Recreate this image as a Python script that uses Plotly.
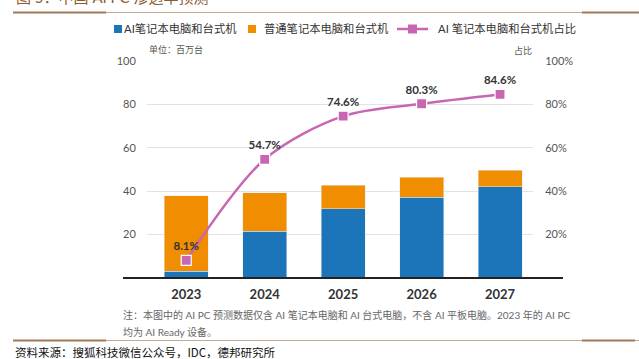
import plotly.graph_objects as go

years = ["2023", "2024", "2025", "2026", "2027"]
ai_pc = [3.1, 21.6, 31.8, 37.3, 42.1]
normal_pc = [34.7, 17.7, 10.9, 9.2, 7.5]
ai_share = [8.1, 54.7, 74.6, 80.3, 84.6]
share_labels = ["8.1%", "54.7%", "74.6%", "80.3%", "84.6%"]
left_ticks = [20, 40, 60, 80, 100]
right_ticks = [20, 40, 60, 80, 100]
right_tick_labels = ["20%", "40%", "60%", "80%", "100%"]
series_names = ["AI笔记本电脑和台式机", "普通笔记本电脑和台式机", "AI 笔记本电脑和台式机占比"]

W, H = 639, 359
ML, MR, MT, MB = 147, 106, 61, 81
PW, PH = W - ML - MR, H - MT - MB

def px(x):
    return (x - ML) / PW

def py(y):
    return (H - MB - y) / PH

FONT = "Lato, 'Noto Sans CJK SC', sans-serif"
BLUE = "#1c74b9"
ORANGE = "#f08d00"
PINK = "#c966b2"
BROWN = "#a07a58"

fig = go.Figure()
fig.add_trace(go.Bar(x=years, y=ai_pc, name=series_names[0],
                     marker=dict(color=BLUE), width=0.56, showlegend=False))
fig.add_trace(go.Bar(x=years, y=normal_pc, name=series_names[1],
                     marker=dict(color=ORANGE), width=0.56, showlegend=False))
fig.add_trace(go.Scatter(x=years, y=ai_share, name=series_names[2],
                         yaxis="y2", mode="lines+markers+text", showlegend=False,
                         line=dict(color=PINK, width=2.5, shape="spline", smoothing=0.9),
                         marker=dict(symbol="square", size=10, color=PINK,
                                     line=dict(color="white", width=1.2)),
                         text=share_labels, textposition="top center",
                         textfont=dict(family=FONT, size=11.5, color="#333333", weight="bold"),
                         cliponaxis=False))

def hline(x0, x1, y, color, width):
    return dict(type="line", xref="paper", yref="paper", x0=px(x0), x1=px(x1),
                y0=py(y), y1=py(y), line=dict(color=color, width=width))

def square(cx, cy, s, color):
    return dict(type="rect", xref="paper", yref="paper",
                x0=px(cx - s / 2), x1=px(cx + s / 2), y0=py(cy + s / 2), y1=py(cy - s / 2),
                fillcolor=color, line=dict(width=0))

LEG_Y = 29
shapes = [
    hline(123, 563, 278, "#222222", 2),
    hline(13, 639, 12.5, "#c2ab96", 1),
    hline(13, 106, 12.5, BROWN, 2),
    hline(582, 639, 12.5, BROWN, 2),
    hline(13, 639, 340.5, "#c2ab96", 1),
    hline(13, 106, 340.5, BROWN, 2),
    hline(582, 635, 340.5, BROWN, 2),
    # legend symbols
    square(118, LEG_Y, 8, BLUE),
    square(252, LEG_Y, 8, ORANGE),
    hline(397, 428, LEG_Y, PINK, 2.5),
    square(412.5, LEG_Y, 9, PINK),
]

def text_ann(text, x, y, size, color, anchor="left", family=FONT, weight="normal"):
    return dict(text=text, xref="paper", yref="paper", x=px(x), y=py(y),
                xanchor=anchor, yanchor="middle", showarrow=False,
                font=dict(family=family, size=size, color=color, weight=weight))

annotations = [
    text_ann("图 5：中国 AI PC 渗透率预测", 14, -3, 15, "#8a5a30"),
    text_ann(series_names[0], 122, LEG_Y, 11.3, "#333333"),
    text_ann(series_names[1], 262, LEG_Y, 11.3, "#333333"),
    text_ann(series_names[2], 436, LEG_Y, 11.3, "#333333"),
    text_ann("单位：百万台", 147, 49.5, 9, "#555555"),
    text_ann("占比", 534, 50, 9, "#555555", anchor="right"),
    text_ann("注：本图中的 AI PC 预测数据仅含 AI 笔记本电脑和 AI 台式电脑，不含 AI 平板电脑。2023 年的 AI PC",
             121, 315, 10, "#666666"),
    text_ann("均为 AI Ready 设备。", 121, 332, 10, "#666666"),
    text_ann("资料来源：搜狐科技微信公众号，IDC，德邦研究所", 13, 351.5, 11.5, "#111111",
             family="'Noto Sans CJK SC', sans-serif"),
]

fig.update_layout(
    width=W, height=H,
    margin=dict(l=ML, r=MR, t=MT, b=MB, pad=0, autoexpand=False),
    paper_bgcolor="white", plot_bgcolor="white",
    barmode="stack",
    font=dict(family=FONT, color="#555555"),
    showlegend=False,
    xaxis=dict(range=[-0.5, 4.42], showgrid=False, showline=False, zeroline=False,
               ticks="outside", ticklen=4, tickcolor="rgba(0,0,0,0)",
               tickfont=dict(family=FONT, size=13, color="#333333", weight="bold")),
    yaxis=dict(range=[0, 100], tickvals=left_ticks, showgrid=True, gridcolor="#e3e3e3",
               gridwidth=1, zeroline=False, showline=False,
               ticks="outside", ticklen=8, tickcolor="rgba(0,0,0,0)",
               tickfont=dict(family=FONT, size=11, color="#555555")),
    yaxis2=dict(range=[0, 100], overlaying="y", side="right", tickvals=right_ticks,
                ticktext=right_tick_labels, showgrid=False, zeroline=False, showline=False,
                ticks="outside", ticklen=9, tickcolor="rgba(0,0,0,0)",
                tickfont=dict(family=FONT, size=11, color="#555555")),
    shapes=shapes,
    annotations=annotations,
)

fig.write_html("out.html", config={"displayModeBar": False},
               post_script="document.body.style.margin='0px';document.body.style.overflow='hidden';")
